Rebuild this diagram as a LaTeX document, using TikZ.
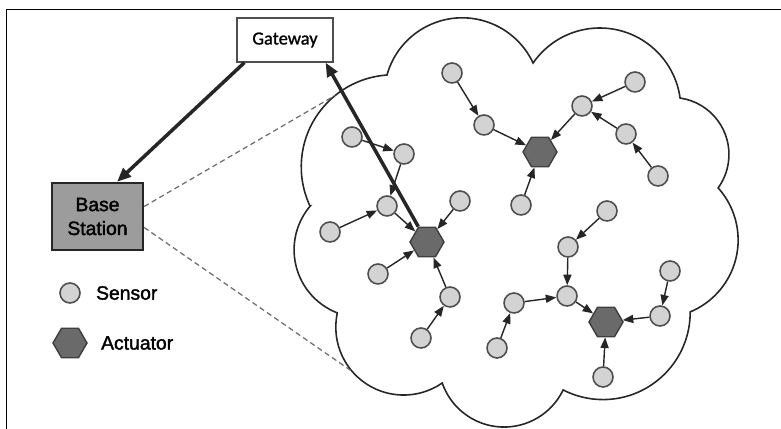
\documentclass[tikz,border=0pt]{standalone}
\usepackage{fontspec}
\setmainfont{Liberation Sans}
\newfontfamily\labelfont{Liberation Sans}[FakeBold=1.8]
\newfontfamily\gwfont{Carlito}[FakeBold=1.2]
\usetikzlibrary{arrows.meta,shapes.geometric,positioning}
\definecolor{sensorgray}{HTML}{D3D3D3}
\definecolor{actgray}{HTML}{6A6A6A}
\definecolor{rimgray}{HTML}{4E4E4E}
\definecolor{bsgray}{HTML}{9C9C9C}
\definecolor{inkgray}{HTML}{262626}

\begin{document}
\begin{tikzpicture}[
  every node/.style={font=\labelfont\fontsize{11}{13.6}\selectfont},
  sensor/.style={circle, draw=rimgray, fill=sensorgray, line width=0.9pt,
                 minimum size=0.4cm, inner sep=0pt},
  actuator/.style={regular polygon, regular polygon sides=6, draw=rimgray!80!black,
                   fill=actgray, line width=0.8pt, minimum size=0.68cm, inner sep=0pt},
  gwbox/.style={rectangle, draw=rimgray, line width=0.6pt, minimum width=1.92cm,
                minimum height=0.88cm, font=\gwfont\fontsize{10.5}{12}\selectfont},
  bsbox/.style={rectangle, draw=inkgray, fill=bsgray, line width=1.3pt,
                minimum width=1.82cm, minimum height=1.34cm, align=center},
  legend/.style={inner sep=0pt, anchor=west},
  arr/.style={-{Triangle[length=6pt, width=4.6pt]}, draw=inkgray, line width=0.8pt},
  bigarr/.style={-{Triangle[length=8pt, width=6.4pt]}, draw=inkgray, line width=2pt},
  hint/.style={densely dashed, draw=gray!85!black, line width=0.7pt},
]
\useasboundingbox (0,0) rectangle (15.62,8.58);
\draw[line width=0.6pt] (0.134,0) -- (0.134,8.394) -- (15.62,8.394);

% the cloud
\draw[inkgray, line width=0.9pt] (6.20,4.46)
  arc[start angle=205.2, end angle=93.9, radius=1.84]
  arc[start angle=164.5, end angle=24.9, radius=1.562]
  arc[start angle=145.4, end angle=7.8, radius=1.621]
  arc[start angle=81.8, end angle=-35.9, radius=1.14]
  arc[start angle=42.0, end angle=-67.4, radius=1.558]
  arc[start angle=0.3, end angle=-117.2, radius=1.744]
  arc[start angle=-25.7, end angle=-160.9, radius=1.31]
  arc[start angle=-55.3, end angle=-192.2, radius=1.356]
  arc[start angle=248.9, end angle=139.5, radius=1.352] -- cycle;
\coordinate (CT) at (6.70,6.67);
\coordinate (CB) at (7.03,1.16);

\node[gwbox] (GW) at (5.70,7.78) {Gateway};
\node[bsbox] (BS) at (1.95,4.25) {Base\\Station};

% actuators
\node[actuator] (A1) at (8.54,3.74) {};
\node[actuator] (A2) at (10.80,5.54) {};
\node[actuator] (A3) at (12.12,2.14) {};

% sensors
\node[sensor] (S1) at (9.04,7.12) {};
\node[sensor] (S2) at (9.68,6.08) {};
\node[sensor] (S3) at (11.64,6.46) {};
\node[sensor] (S4) at (12.70,6.94) {};
\node[sensor] (S5) at (12.52,5.90) {};
\node[sensor] (S6) at (13.16,5.06) {};
\node[sensor] (S7) at (10.42,4.48) {};
\node[sensor] (S8) at (7.04,5.84) {};
\node[sensor] (S9) at (8.08,5.50) {};
\node[sensor] (S10) at (7.74,4.46) {};
\node[sensor] (S11) at (6.60,3.94) {};
\node[sensor] (S12) at (9.20,4.56) {};
\node[sensor] (S13) at (7.56,3.10) {};
\node[sensor] (S14) at (9.00,2.64) {};
\node[sensor] (S15) at (8.42,1.82) {};
\node[sensor] (S16) at (12.14,4.36) {};
\node[sensor] (S17) at (11.36,3.64) {};
\node[sensor] (S18) at (11.34,2.66) {};
\node[sensor] (S19) at (10.28,2.52) {};
\node[sensor] (S20) at (9.94,1.62) {};
\node[sensor] (S21) at (13.40,3.16) {};
\node[sensor] (S22) at (13.20,2.26) {};
\node[sensor] (S23) at (12.06,1.04) {};

% legend
\node[sensor] (LS) at (1.40,2.72) {};
\node[legend, right=0.3cm of LS] (LSt) {Sensor};
\node[actuator] (LA) at (1.40,1.72) {};
\node[legend, right=0.26cm of LA] (LAt) {Actuator};

\draw[arr] (S1) -- (S2);
\draw[arr] (S2) -- (A2);
\draw[arr] (S3) -- (A2);
\draw[arr] (S4) -- (S3);
\draw[arr] (S5) -- (S3);
\draw[arr] (S6) -- (S5);
\draw[arr] (S7) -- (A2);
\draw[arr] (S8) -- (S9);
\draw[arr] (S9) -- (S10);
\draw[arr] (S11) -- (S10);
\draw[arr] (S10) -- (A1);
\draw[arr] (S12) -- (A1);
\draw[arr] (S13) -- (A1);
\draw[arr] (S14) -- (A1);
\draw[arr] (S15) -- (S14);
\draw[arr] (S16) -- (S17);
\draw[arr] (S17) -- (S18);
\draw[arr] (S19) -- (S18);
\draw[arr] (S20) -- (S19);
\draw[arr] (S18) -- (A3);
\draw[arr] (S21) -- (S22);
\draw[arr] (S22) -- (A3);
\draw[arr] (S23) -- (A3);

\draw[hint] ([yshift=0.2cm]BS.east) -- (CT);
\draw[hint] ([yshift=-0.22cm]BS.east) -- (CB);
\draw[bigarr] ([xshift=0.16cm]GW.south west) -- ([xshift=0.39cm]BS.north);
\draw[bigarr] (A1) -- ([xshift=-0.16cm]GW.south east);
\end{tikzpicture}
\end{document}
